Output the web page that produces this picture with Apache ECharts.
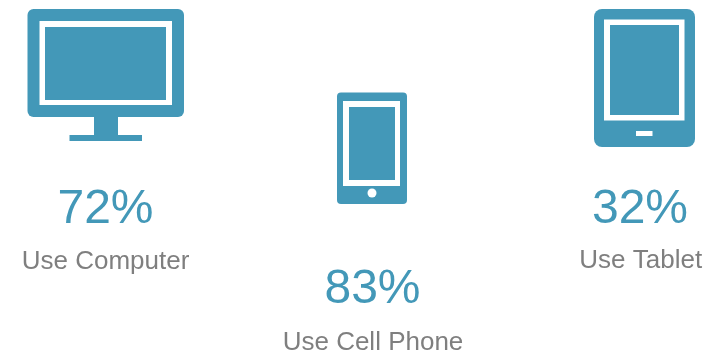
<!DOCTYPE html>
<html>
<head>
<meta charset="utf-8">
<style>html,body{margin:0;padding:0;background:#fff}#chart{width:706px;height:360px}</style>
<script src="https://cdn.jsdelivr.net/npm/echarts@6/dist/echarts.min.js"></script>
</head>
<body>
<div id="chart"></div>
<script>
// Device usage shares
const devices = ['Computer', 'Cell Phone', 'Tablet'];
const shares = [72, 83, 32];

const BLUE = '#4398b8';
const GREY = '#7f7f7f';

const box = (x0, y0, x1, y1, fill, r) => ({
  type: 'rect',
  shape: { x: x0, y: y0, width: x1 - x0, height: y1 - y0, r: r || 0 },
  style: { fill: fill }
});

// Each device icon is layered from filled shapes: body, white bezel, blue screen
const icons = [
  [
    box(94, 115, 118, 136, BLUE),
    box(69.5, 135, 142, 141, BLUE),
    box(27.5, 9, 184, 117, BLUE, 6),
    box(39.5, 21, 172, 105, '#fff'),
    box(45, 27, 166, 100, BLUE)
  ],
  [
    box(337, 92.5, 407, 204, BLUE, 4),
    box(343, 101, 400, 186, '#fff'),
    box(349, 107, 395, 180, BLUE),
    { type: 'circle', shape: { cx: 372, cy: 193, r: 4.5 }, style: { fill: '#fff' } }
  ],
  [
    box(594, 9, 695, 147, BLUE, 8),
    box(604, 19.5, 684.5, 120.5, '#fff'),
    box(610, 25, 679, 115, BLUE),
    box(636, 131, 652.5, 136, '#fff')
  ]
];

// Text anchors per device: centre x for each line, percentage top y, caption top y
const anchors = [
  { x: 105.5, capX: 105.5, pct: 186, cap: 249 },
  { x: 372.5, capX: 373, pct: 266, cap: 330 },
  { x: 640, capX: 640.7, pct: 186, cap: 248 }
];

const elements = [];
devices.forEach((name, i) => {
  icons[i].forEach(el => elements.push(el));
  elements.push({
    type: 'text',
    style: {
      x: anchors[i].x, y: anchors[i].pct,
      text: shares[i] + '%',
      font: '48px "Liberation Sans", Arial, sans-serif',
      fill: BLUE, align: 'center', verticalAlign: 'top'
    }
  });
  elements.push({
    type: 'text',
    style: {
      x: anchors[i].capX, y: anchors[i].cap,
      text: 'Use ' + name,
      font: '26px "Liberation Sans", Arial, sans-serif',
      fill: GREY, align: 'center', verticalAlign: 'top'
    }
  });
});

const chart = echarts.init(document.getElementById('chart'), null, { renderer: 'canvas' });
chart.setOption({
  backgroundColor: '#fff',
  animation: false,
  graphic: { elements: elements }
});
</script>
</body>
</html>
